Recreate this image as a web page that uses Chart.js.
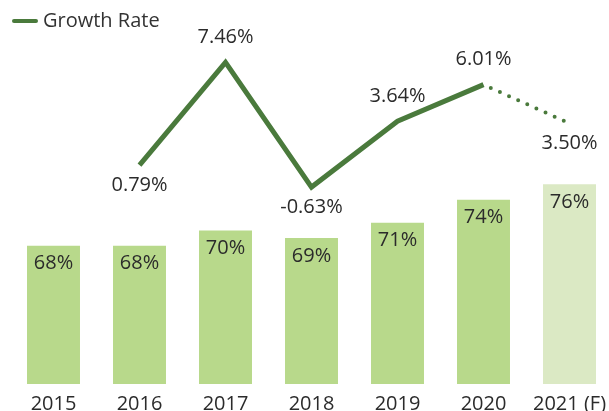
<!DOCTYPE html>
<html>
<head>
<meta charset="utf-8">
<script src="https://cdn.jsdelivr.net/npm/chart.js@4"></script>
<style>
    html, body { margin: 0; padding: 0; background: #fff; overflow: hidden; }
    #wrap { width: 609px; height: 411px; overflow: hidden; }
</style>
</head>
<body>
<div id="wrap"><canvas id="growthChart" width="623" height="416"></canvas></div>
<script>
const years = ['2015', '2016', '2017', '2018', '2019', '2020', '2021 (F)'];
const share = [68, 68, 70, 69, 71, 74, 76];
const growthRate = [null, 0.79, 7.46, -0.63, 3.64, 6.01, 3.50];
// which side of the line each growth label sits on
const growthLabelSide = [null, 'below', 'above', 'below', 'above', 'above', 'below'];

const lineColor = '#4a7a3c';
const barColor = '#b8d98b';
const forecastBarColor = '#dbe9c4';
const textColor = '#2b2b2b';
const fontFamily = "'Open Sans', 'Noto Sans', sans-serif";

const lastIdx = years.length - 1;

// value labels + legend drawn straight on the canvas
const labelPlugin = {
    id: 'valueLabels',
    afterDatasetsDraw(chart) {
        const ctx = chart.ctx;
        ctx.save();
        ctx.font = `20px ${fontFamily}`;
        ctx.fillStyle = textColor;
        ctx.textAlign = 'center';
        ctx.textBaseline = 'middle';

        chart.getDatasetMeta(0).data.forEach((bar, i) => {
            ctx.fillText(share[i] + '%', bar.x, bar.y + 18);
        });

        chart.getDatasetMeta(1).data.forEach((pt, i) => {
            if (growthRate[i] === null) return;
            const dy = growthLabelSide[i] == 'above' ? -25 : 20;
            ctx.fillText(growthRate[i].toFixed(2) + '%', pt.x, pt.y + dy);
        });

        // legend
        ctx.strokeStyle = lineColor;
        ctx.lineWidth = 4;
        ctx.lineCap = 'round';
        ctx.beginPath();
        ctx.moveTo(14, 21);
        ctx.lineTo(36, 21);
        ctx.stroke();
        ctx.textAlign = 'left';
        ctx.fillStyle = '#333';
        ctx.fillText('Growth Rate', 43, 21);
        ctx.restore();
    }
};

const data = {
    labels: years,
    datasets: [
        {
            type: 'bar',
            label: 'Share',
            data: share,
            backgroundColor: share.map((v, i) => i == lastIdx ? forecastBarColor : barColor),
            categoryPercentage: 1,
            barPercentage: 0.616,
            yAxisID: 'y',
            order: 1,
        },
        {
            type: 'line',
            label: 'Growth Rate',
            data: growthRate,
            borderColor: lineColor,
            borderWidth: 5,
            borderCapStyle: 'butt',
            borderJoinStyle: 'miter',
            pointRadius: 0,
            tension: 0,
            yAxisID: 'y1',
            order: 0,
            segment: {
                // forecast year is dotted
                borderDash: c => c.p1DataIndex == lastIdx ? [0, 10] : undefined,
                borderDashOffset: c => c.p1DataIndex == lastIdx ? -8 : undefined,
                borderCapStyle: c => c.p1DataIndex == lastIdx ? 'round' : undefined,
                borderWidth: c => c.p1DataIndex == lastIdx ? 4 : undefined,
            },
        },
    ]
};

const config = {
    type: 'bar',
    data: data,
    options: {
        responsive: false,
        animation: false,
        layout: {
            padding: { left: 10.5, right: 10.5, top: 0, bottom: 0 }
        },
        plugins: {
            legend: { display: false },
            tooltip: { enabled: false },
        },
        scales: {
            x: {
                grid: { display: false },
                border: { display: false },
                ticks: {
                    color: textColor,
                    font: { family: fontFamily, size: 20 },
                    padding: 0,
                },
            },
            y: {
                display: false,
                min: 50,
                max: 100,
            },
            y1: {
                display: false,
                min: -13.4,
                max: 11.5,
            },
        }
    },
    plugins: [labelPlugin],
};

const chart = new Chart(document.getElementById('growthChart'), config);
</script>
</body>
</html>
